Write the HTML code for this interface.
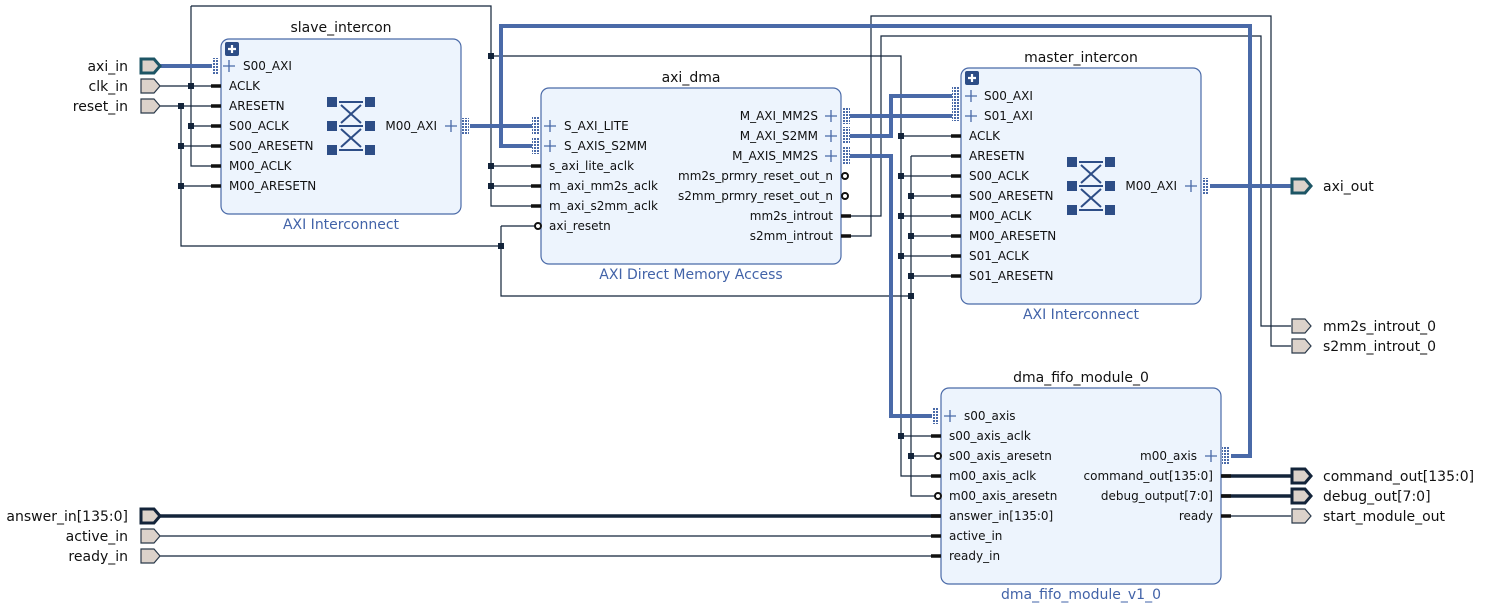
<!DOCTYPE html>
<html><head><meta charset="utf-8"><style>
html,body{margin:0;padding:0;background:#fff;}
svg{display:block;font-family:"DejaVu Sans","Liberation Sans",sans-serif;}
.pl{font-size:12px;fill:#111;}
.t{font-size:14px;fill:#111;text-anchor:middle;}
.st{font-size:14px;fill:#4263a8;text-anchor:middle;}
.el{font-size:14px;fill:#111;}
.w{stroke:#13243a;stroke-width:1.2;fill:none;}
.b{stroke:#4a6aa8;stroke-width:4;fill:none;}
.bb{stroke:#13243a;stroke-width:3.5;fill:none;}
.box{fill:#edf4fd;stroke:#4a6aa8;stroke-width:1.2;}
.stub{stroke:#111;stroke-width:3.5;}
.pin{fill:#dcd2ca;stroke:#2b3a4a;stroke-width:1.2;}
.pinb{fill:#dcd2ca;stroke:#1d5565;stroke-width:3;}
.pinbd{fill:#dcd2ca;stroke:#13243a;stroke-width:3;}
.pls{stroke:#4a6aa8;stroke-width:1.3;}
</style></head><body>
<svg width="1485" height="607" viewBox="0 0 1485 607" xmlns="http://www.w3.org/2000/svg">
<defs>
<pattern id="dots" width="3" height="3" patternUnits="userSpaceOnUse"><rect width="3" height="3" fill="#fff"/><rect x="0" y="0" width="2" height="2" fill="#4a6aa8"/></pattern>
<g id="ic">
<rect x="0" y="0" width="10" height="10" fill="#2d4d86"/><rect x="38" y="0" width="10" height="10" fill="#2d4d86"/>
<rect x="0" y="24" width="10" height="10" fill="#2d4d86"/><rect x="38" y="24" width="10" height="10" fill="#2d4d86"/>
<rect x="0" y="48" width="10" height="10" fill="#2d4d86"/><rect x="38" y="48" width="10" height="10" fill="#2d4d86"/>
<path d="M12 5H36M12 29H36M12 53H36M14 8L34 26M34 8L14 26M14 32L34 50M34 32L14 50" stroke="#2d4d86" stroke-width="2" fill="none"/>
</g>
<g id="plusbtn"><rect x="0" y="0" width="14" height="14" rx="2" fill="#2d4d86"/><path d="M7 3V11M3 7H11" stroke="#fff" stroke-width="2.2"/></g>
</defs>

<!-- wires (thin) -->
<g class="w">
<!-- clk net -->
<path d="M160 86H221M191 6V166H221M191 126H221M191 6H491V206H541M491 166H541M491 186H541M491 56H901V476H941M901 136H961M901 176H961M901 216H961M901 256H961M901 436H941"/>
<!-- reset net -->
<path d="M160 106H221M181 106V246H501M181 146H221M181 186H221M501 226H537M501 226V296H911M911 156H961M911 156V496H937M911 196H961M911 236H961M911 276H961M911 456H937"/>
<!-- introut -->
<path d="M841 216H881V36H1261V326H1291M841 236H871V16H1271V346H1291"/>
<path d="M160 536H941M160 556H941M1221 516H1291"/>
</g>
<!-- junctions -->
<g fill="#13243a">
<rect x="188" y="83" width="6" height="6"/><rect x="188" y="123" width="6" height="6"/>
<rect x="178" y="103" width="6" height="6"/><rect x="178" y="143" width="6" height="6"/><rect x="178" y="183" width="6" height="6"/>
<rect x="488" y="53" width="6" height="6"/><rect x="488" y="163" width="6" height="6"/><rect x="488" y="183" width="6" height="6"/>
<rect x="498" y="243" width="6" height="6"/>
<rect x="898" y="133" width="6" height="6"/><rect x="898" y="173" width="6" height="6"/><rect x="898" y="213" width="6" height="6"/><rect x="898" y="253" width="6" height="6"/><rect x="898" y="433" width="6" height="6"/>
<rect x="908" y="193" width="6" height="6"/><rect x="908" y="233" width="6" height="6"/><rect x="908" y="273" width="6" height="6"/><rect x="908" y="293" width="6" height="6"/><rect x="908" y="453" width="6" height="6"/>
</g>

<!-- buses -->
<g class="b">
<path d="M160 66H212"/>
<path d="M470 126H532"/>
<path d="M1231 456H1250V26H501V146H532"/>
<path d="M850 116H952"/>
<path d="M850 136H891V96H952"/>
<path d="M850 156H891V416H932"/>
<path d="M1210 186H1291"/>
</g>
<g class="bb">
<path d="M160 516H941M1221 476H1291M1221 496H1291"/>
</g>

<!-- slave_intercon -->
<text class="t" x="341" y="32">slave_intercon</text>
<rect class="box" x="221" y="39" width="240" height="175" rx="8"/>
<use href="#plusbtn" x="225" y="42"/>
<text class="st" x="341" y="229">AXI Interconnect</text>
<use href="#ic" x="327" y="97"/>
<rect x="212" y="58" width="7" height="17" fill="url(#dots)"/>
<path class="pls" d="M229 60V72M223 66H235"/>
<text class="pl" x="243" y="70">S00_AXI</text>
<g class="stub"><path d="M211 86H221M211 106H221M211 126H221M211 146H221M211 166H221M211 186H221"/></g>
<text class="pl" x="229" y="90">ACLK</text>
<text class="pl" x="229" y="110">ARESETN</text>
<text class="pl" x="229" y="130">S00_ACLK</text>
<text class="pl" x="229" y="150">S00_ARESETN</text>
<text class="pl" x="229" y="170">M00_ACLK</text>
<text class="pl" x="229" y="190">M00_ARESETN</text>
<text class="pl" x="437" y="130" text-anchor="end">M00_AXI</text>
<path class="pls" d="M451 120V132M445 126H457"/>
<rect x="462" y="118" width="7" height="17" fill="url(#dots)"/>

<!-- axi_dma -->
<text class="t" x="691" y="82">axi_dma</text>
<rect class="box" x="541" y="88" width="300" height="176" rx="8"/>
<text class="st" x="691" y="279">AXI Direct Memory Access</text>
<rect x="532" y="117" width="7" height="17" fill="url(#dots)"/>
<rect x="532" y="137" width="7" height="17" fill="url(#dots)"/>
<path class="pls" d="M550 120V132M544 126H556M550 140V152M544 146H556"/>
<text class="pl" x="564" y="130">S_AXI_LITE</text>
<text class="pl" x="564" y="150">S_AXIS_S2MM</text>
<g class="stub"><path d="M531 166H541M531 186H541M531 206H541M841 216H851M841 236H851"/></g>
<circle cx="538" cy="226" r="3" fill="#fff" stroke="#111" stroke-width="2"/>
<text class="pl" x="549" y="170">s_axi_lite_aclk</text>
<text class="pl" x="549" y="190">m_axi_mm2s_aclk</text>
<text class="pl" x="549" y="210">m_axi_s2mm_aclk</text>
<text class="pl" x="549" y="230">axi_resetn</text>
<text class="pl" x="818" y="120" text-anchor="end">M_AXI_MM2S</text>
<text class="pl" x="818" y="140" text-anchor="end">M_AXI_S2MM</text>
<text class="pl" x="818" y="160" text-anchor="end">M_AXIS_MM2S</text>
<path class="pls" d="M831 110V122M825 116H837M831 130V142M825 136H837M831 150V162M825 156H837"/>
<rect x="843" y="107" width="7" height="17" fill="url(#dots)"/>
<rect x="843" y="127" width="7" height="17" fill="url(#dots)"/>
<rect x="843" y="147" width="7" height="17" fill="url(#dots)"/>
<text class="pl" x="833" y="180" text-anchor="end">mm2s_prmry_reset_out_n</text>
<text class="pl" x="833" y="200" text-anchor="end">s2mm_prmry_reset_out_n</text>
<circle cx="845" cy="176" r="3" fill="#fff" stroke="#111" stroke-width="2"/>
<circle cx="845" cy="196" r="3" fill="#fff" stroke="#111" stroke-width="2"/>
<text class="pl" x="833" y="220" text-anchor="end">mm2s_introut</text>
<text class="pl" x="833" y="240" text-anchor="end">s2mm_introut</text>

<!-- master_intercon -->
<text class="t" x="1081" y="62">master_intercon</text>
<rect class="box" x="961" y="68" width="240" height="236" rx="8"/>
<use href="#plusbtn" x="965" y="71"/>
<text class="st" x="1081" y="319">AXI Interconnect</text>
<use href="#ic" x="1067" y="157"/>
<rect x="952" y="87" width="7" height="34" fill="url(#dots)"/>
<path class="pls" d="M971 90V102M965 96H977M971 110V122M965 116H977"/>
<text class="pl" x="984" y="100">S00_AXI</text>
<text class="pl" x="984" y="120">S01_AXI</text>
<g class="stub"><path d="M951 136H961M951 156H961M951 176H961M951 196H961M951 216H961M951 236H961M951 256H961M951 276H961"/></g>
<text class="pl" x="969" y="140">ACLK</text>
<text class="pl" x="969" y="160">ARESETN</text>
<text class="pl" x="969" y="180">S00_ACLK</text>
<text class="pl" x="969" y="200">S00_ARESETN</text>
<text class="pl" x="969" y="220">M00_ACLK</text>
<text class="pl" x="969" y="240">M00_ARESETN</text>
<text class="pl" x="969" y="260">S01_ACLK</text>
<text class="pl" x="969" y="280">S01_ARESETN</text>
<text class="pl" x="1177" y="190" text-anchor="end">M00_AXI</text>
<path class="pls" d="M1191 180V192M1185 186H1197"/>
<rect x="1202" y="178" width="7" height="17" fill="url(#dots)"/>

<!-- dma_fifo -->
<text class="t" x="1081" y="382">dma_fifo_module_0</text>
<rect class="box" x="941" y="388" width="280" height="196" rx="8"/>
<text class="st" x="1081" y="599">dma_fifo_module_v1_0</text>
<rect x="932" y="407" width="7" height="17" fill="url(#dots)"/>
<path class="pls" d="M950 410V422M944 416H956"/>
<text class="pl" x="964" y="420">s00_axis</text>
<g class="stub"><path d="M931 436H941M931 476H941M931 516H941M931 536H941M931 556H941M1221 476H1231M1221 496H1231M1221 516H1231"/></g>
<circle cx="938" cy="456" r="3" fill="#fff" stroke="#111" stroke-width="2"/>
<circle cx="938" cy="496" r="3" fill="#fff" stroke="#111" stroke-width="2"/>
<text class="pl" x="949" y="440">s00_axis_aclk</text>
<text class="pl" x="949" y="460">s00_axis_aresetn</text>
<text class="pl" x="949" y="480">m00_axis_aclk</text>
<text class="pl" x="949" y="500">m00_axis_aresetn</text>
<text class="pl" x="949" y="520">answer_in[135:0]</text>
<text class="pl" x="949" y="540">active_in</text>
<text class="pl" x="949" y="560">ready_in</text>
<text class="pl" x="1197" y="460" text-anchor="end">m00_axis</text>
<path class="pls" d="M1211 450V462M1205 456H1217"/>
<rect x="1222" y="447" width="7" height="17" fill="url(#dots)"/>
<text class="pl" x="1213" y="480" text-anchor="end">command_out[135:0]</text>
<text class="pl" x="1213" y="500" text-anchor="end">debug_output[7:0]</text>
<text class="pl" x="1213" y="520" text-anchor="end">ready</text>

<!-- external input ports -->
<polygon class="pinb" points="141,59 154,59 160,66 154,73 141,73"/>
<polygon class="pin" points="141,79 154,79 160,86 154,93 141,93"/>
<polygon class="pin" points="141,99 154,99 160,106 154,113 141,113"/>
<polygon class="pinbd" points="141,509 154,509 160,516 154,523 141,523"/>
<polygon class="pin" points="141,529 154,529 160,536 154,543 141,543"/>
<polygon class="pin" points="141,549 154,549 160,556 154,563 141,563"/>
<text class="el" x="128" y="71" text-anchor="end">axi_in</text>
<text class="el" x="128" y="91" text-anchor="end">clk_in</text>
<text class="el" x="128" y="111" text-anchor="end">reset_in</text>
<text class="el" x="128" y="521" text-anchor="end">answer_in[135:0]</text>
<text class="el" x="128" y="541" text-anchor="end">active_in</text>
<text class="el" x="128" y="561" text-anchor="end">ready_in</text>

<!-- external output ports -->
<polygon class="pinb" points="1292,179 1305,179 1311,186 1305,193 1292,193"/>
<polygon class="pin" points="1292,319 1305,319 1311,326 1305,333 1292,333"/>
<polygon class="pin" points="1292,339 1305,339 1311,346 1305,353 1292,353"/>
<polygon class="pinbd" points="1292,469 1305,469 1311,476 1305,483 1292,483"/>
<polygon class="pinbd" points="1292,489 1305,489 1311,496 1305,503 1292,503"/>
<polygon class="pin" points="1292,509 1305,509 1311,516 1305,523 1292,523"/>
<text class="el" x="1323" y="191">axi_out</text>
<text class="el" x="1323" y="331">mm2s_introut_0</text>
<text class="el" x="1323" y="351">s2mm_introut_0</text>
<text class="el" x="1323" y="481">command_out[135:0]</text>
<text class="el" x="1323" y="501">debug_out[7:0]</text>
<text class="el" x="1323" y="521">start_module_out</text>
</svg>
</body></html>
